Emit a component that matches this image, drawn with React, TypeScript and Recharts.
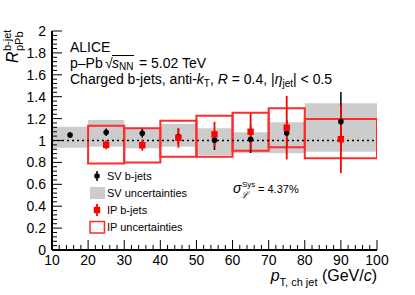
import React from 'react';
import {
  ComposedChart,
  Scatter,
  XAxis,
  YAxis,
  ErrorBar,
  ReferenceArea,
  ReferenceLine,
} from 'recharts';

// ---- data ----
const binLow = [10, 20, 30, 40, 50, 60, 70, 80];
const binHigh = [20, 30, 40, 50, 60, 70, 80, 100];

const svX = [15, 25, 35, 45, 55, 65, 75, 90];
const svY = [1.05, 1.075, 1.066, 1.035, 1.003, 1.011, 1.068, 1.172];
const svErr = [0.025, 0.035, 0.04, 0.07, 0.09, 0.125, 0.12, 0.27];
const svSysLow = [0.934, 0.943, 0.93, 0.943, 0.868, 0.883, 0.883, 0.898];
const svSysHigh = [1.126, 1.187, 1.117, 1.15, 1.111, 1.075, 1.166, 1.34];

const ipBinLow = [20, 30, 40, 50, 60, 70, 80];
const ipBinHigh = [30, 40, 50, 60, 70, 80, 100];
const ipX = [25, 35, 45, 55, 65, 75, 90];
const ipY = [0.96, 0.957, 1.025, 1.056, 1.08, 1.117, 1.012];
const ipErr = [0.04, 0.05, 0.09, 0.115, 0.17, 0.29, 0.31];
const ipSysLow = [0.79, 0.8, 0.852, 0.852, 0.907, 0.938, 0.837];
const ipSysHigh = [1.135, 1.111, 1.181, 1.227, 1.254, 1.294, 1.196];

const xTickLabels = [10, 20, 30, 40, 50, 60, 70, 80, 90, 100];
const yTickLabels = [0, 0.2, 0.4, 0.6, 0.8, 1, 1.2, 1.4, 1.6, 1.8, 2];

// ---- axis tick sets (major + minor) ----
const xTicksAll: number[] = [];
for (let i = 0; i <= 45; i++) xTicksAll.push(10 + i * 2);
const yTicksAll: number[] = [];
for (let i = 0; i <= 50; i++) yTicksAll.push(Math.round(i * 4) / 100);

const isMajorX = (v: number) => xTickLabels.some((t) => Math.abs(t - v) < 1e-6);
const isMajorY = (v: number) => yTickLabels.some((t) => Math.abs(t - v) < 1e-6);

const svData = svX.map((x, i) => ({ x, y: svY[i], err: svErr[i] }));
const ipData = ipX.map((x, i) => ({ x, y: ipY[i], err: ipErr[i] }));

const FONT = "'Liberation Sans', Arial, Helvetica, sans-serif";
const MAJ = 10;
const MIN = 5;

const BottomTick = (p: any) => {
  const v = p.payload.value;
  const major = isMajorX(v);
  return (
    <g>
      <line x1={p.x} y1={p.y} x2={p.x} y2={p.y - (major ? MAJ : MIN)} stroke="#000" strokeWidth={1} />
      {major && (
        <text x={p.x} y={p.y + 15} textAnchor="middle" fontSize={14} fontFamily={FONT} fill="#000">
          {v}
        </text>
      )}
    </g>
  );
};
const TopTick = (p: any) => {
  const v = p.payload.value;
  const major = isMajorX(v);
  return <line x1={p.x} y1={p.y} x2={p.x} y2={p.y + (major ? MAJ : MIN)} stroke="#000" strokeWidth={1} />;
};
const LeftTick = (p: any) => {
  const v = p.payload.value;
  const major = isMajorY(v);
  return (
    <g>
      <line x1={p.x} y1={p.y} x2={p.x + (major ? MAJ : MIN)} y2={p.y} stroke="#000" strokeWidth={1} />
      {major && (
        <text x={p.x - 6} y={p.y + 5} textAnchor="end" fontSize={14} fontFamily={FONT} fill="#000">
          {String(Math.round(v * 10) / 10)}
        </text>
      )}
    </g>
  );
};
const RightTick = (p: any) => {
  const v = p.payload.value;
  const major = isMajorY(v);
  return <line x1={p.x} y1={p.y} x2={p.x - (major ? MAJ : MIN)} y2={p.y} stroke="#000" strokeWidth={1} />;
};

const SvDot = (p: any) => <circle cx={p.cx} cy={p.cy} r={2.8} fill="#000" />;
const IpSquare = (p: any) => (
  <rect x={p.cx - 3.2} y={p.cy - 3.2} width={6.4} height={6.4} fill="#ff0000" />
);

const RED = '#ff2a2a';

export default function App() {
  return (
    <div style={{ position: 'absolute', left: 0, top: 0, width: 415, height: 295, background: '#fff' }}>
      <ComposedChart
        width={415}
        height={295}
        margin={{ top: 31, right: 38, bottom: 0, left: 0 }}
      >
        <XAxis
          xAxisId="b"
          dataKey="x"
          type="number"
          domain={[10, 100]}
          allowDataOverflow
          ticks={xTicksAll}
          interval={0}
          tick={<BottomTick />}
          tickLine={false}
          tickSize={0}
          tickMargin={0}
          height={45}
          axisLine={{ stroke: '#000', strokeWidth: 2 }}
        />
        <XAxis
          xAxisId="t"
          orientation="top"
          type="number"
          domain={[10, 100]}
          allowDataOverflow
          ticks={xTicksAll}
          interval={0}
          tick={<TopTick />}
          tickLine={false}
          tickSize={0}
          tickMargin={0}
          height={0}
          axisLine={{ stroke: '#000', strokeWidth: 2 }}
        />
        <YAxis
          yAxisId="l"
          dataKey="y"
          type="number"
          domain={[0, 2]}
          allowDataOverflow
          ticks={yTicksAll}
          interval={0}
          tick={<LeftTick />}
          tickLine={false}
          tickSize={0}
          tickMargin={0}
          width={52}
          axisLine={{ stroke: '#000', strokeWidth: 2 }}
        />
        <YAxis
          yAxisId="r"
          orientation="right"
          type="number"
          domain={[0, 2]}
          allowDataOverflow
          ticks={yTicksAll}
          interval={0}
          tick={<RightTick />}
          tickLine={false}
          tickSize={0}
          tickMargin={0}
          width={0}
          axisLine={{ stroke: '#000', strokeWidth: 2 }}
        />

        {binLow.map((lo, i) => (
          <ReferenceArea
            key={'sv' + i}
            xAxisId="b"
            yAxisId="l"
            x1={lo}
            x2={binHigh[i]}
            y1={svSysLow[i]}
            y2={svSysHigh[i]}
            fill="#cccccc"
            fillOpacity={1}
            stroke="none"
            ifOverflow="hidden"
          />
        ))}
        <ReferenceLine
          xAxisId="b"
          yAxisId="l"
          y={1}
          stroke="#000"
          strokeWidth={1.5}
          strokeDasharray="2 3"
        />
        {ipBinLow.map((lo, i) => (
          <ReferenceArea
            key={'ip' + i}
            xAxisId="b"
            yAxisId="l"
            x1={lo}
            x2={ipBinHigh[i]}
            y1={ipSysLow[i]}
            y2={ipSysHigh[i]}
            fill="none"
            fillOpacity={0}
            stroke={RED}
            strokeWidth={2}
            ifOverflow="hidden"
          />
        ))}

        <Scatter
          xAxisId="b"
          yAxisId="l"
          data={svData}
          dataKey="y"
          shape={SvDot}
          isAnimationActive={false}
        >
          <ErrorBar dataKey="err" direction="y" width={0} stroke="#000" strokeWidth={1.5} isAnimationActive={false} />
        </Scatter>
        <Scatter
          xAxisId="b"
          yAxisId="l"
          data={ipData}
          dataKey="y"
          shape={IpSquare}
          isAnimationActive={false}
        >
          <ErrorBar dataKey="err" direction="y" width={0} stroke="#ff0000" strokeWidth={1.8} isAnimationActive={false} />
        </Scatter>
      </ComposedChart>

      <svg
        width={415}
        height={295}
        style={{ position: 'absolute', left: 0, top: 0, pointerEvents: 'none' }}
        fontFamily={FONT}
      >
        {/* y-axis title */}
        <g transform="translate(18,63) rotate(-90)">
          <text x={0} y={0} fontSize={16} fontStyle="italic">R</text>
          <text fontSize={11}>
            <tspan x={12} y={-7}>b-jet</tspan>
          </text>
          <text fontSize={11}>
            <tspan x={12} y={5}>pPb</tspan>
          </text>
        </g>

        {/* x-axis title */}
        <text x={377} y={281} textAnchor="end" fontSize={16}>
          <tspan fontStyle="italic">p</tspan>
          <tspan fontSize={11} dy={5}>T, ch jet</tspan>
          <tspan dy={-5}> (GeV/</tspan>
          <tspan fontStyle="italic">c</tspan>
          <tspan>)</tspan>
        </text>

        {/* header */}
        <text x={70} y={52} fontSize={14}>ALICE</text>
        <text x={70} y={67.5} fontSize={14}>p–Pb</text>
        <text x={105} y={68} fontSize={14}>√</text>
        <line x1={112} y1={55.5} x2={134} y2={55.5} stroke="#000" strokeWidth={1} />
        <text x={112} y={67.5} fontSize={14}>
          <tspan fontStyle="italic">s</tspan>
          <tspan fontSize={10} dy={2.5}>NN</tspan>
        </text>
        <text x={139} y={67.5} fontSize={14}>= 5.02 TeV</text>
        <text x={70} y={83.5} fontSize={14}>
          <tspan>Charged b-jets, anti-</tspan>
          <tspan fontStyle="italic">k</tspan>
          <tspan fontSize={10} dy={3}>T</tspan>
          <tspan dy={-3}>, </tspan>
          <tspan fontStyle="italic">R</tspan>
          <tspan> = 0.4, |</tspan>
          <tspan fontStyle="italic">η</tspan>
          <tspan fontSize={10} dy={3}>jet</tspan>
          <tspan dy={-3}>| &lt; 0.5</tspan>
        </text>

        {/* legend */}
        <line x1={97} y1={171} x2={97} y2={181} stroke="#000" strokeWidth={1.5} />
        <circle cx={97} cy={176} r={2.8} fill="#000" />
        <text x={107} y={180} fontSize={11}>SV b-jets</text>
        <rect x={90} y={187} width={15} height={12} fill="#cccccc" />
        <text x={107} y={197} fontSize={11}>SV uncertainties</text>
        <line x1={97} y1={204} x2={97} y2={216} stroke="#ff0000" strokeWidth={1.8} />
        <rect x={93.8} y={206.8} width={6.4} height={6.4} fill="#ff0000" />
        <text x={107} y={214} fontSize={11}>IP b-jets</text>
        <rect x={90} y={221.5} width={14.5} height={11.5} fill="none" stroke={RED} strokeWidth={1.5} />
        <text x={107} y={231} fontSize={11}>IP uncertainties</text>

        {/* sigma */}
        <text x={233} y={193} fontSize={14} fontStyle="italic">σ</text>
        <text x={242} y={187} fontSize={8}>Sys</text>
        <text x={241} y={198} fontSize={9} fontStyle="italic">ℒ</text>
        <text x={258} y={193} fontSize={11}>= 4.37%</text>
      </svg>
    </div>
  );
}
